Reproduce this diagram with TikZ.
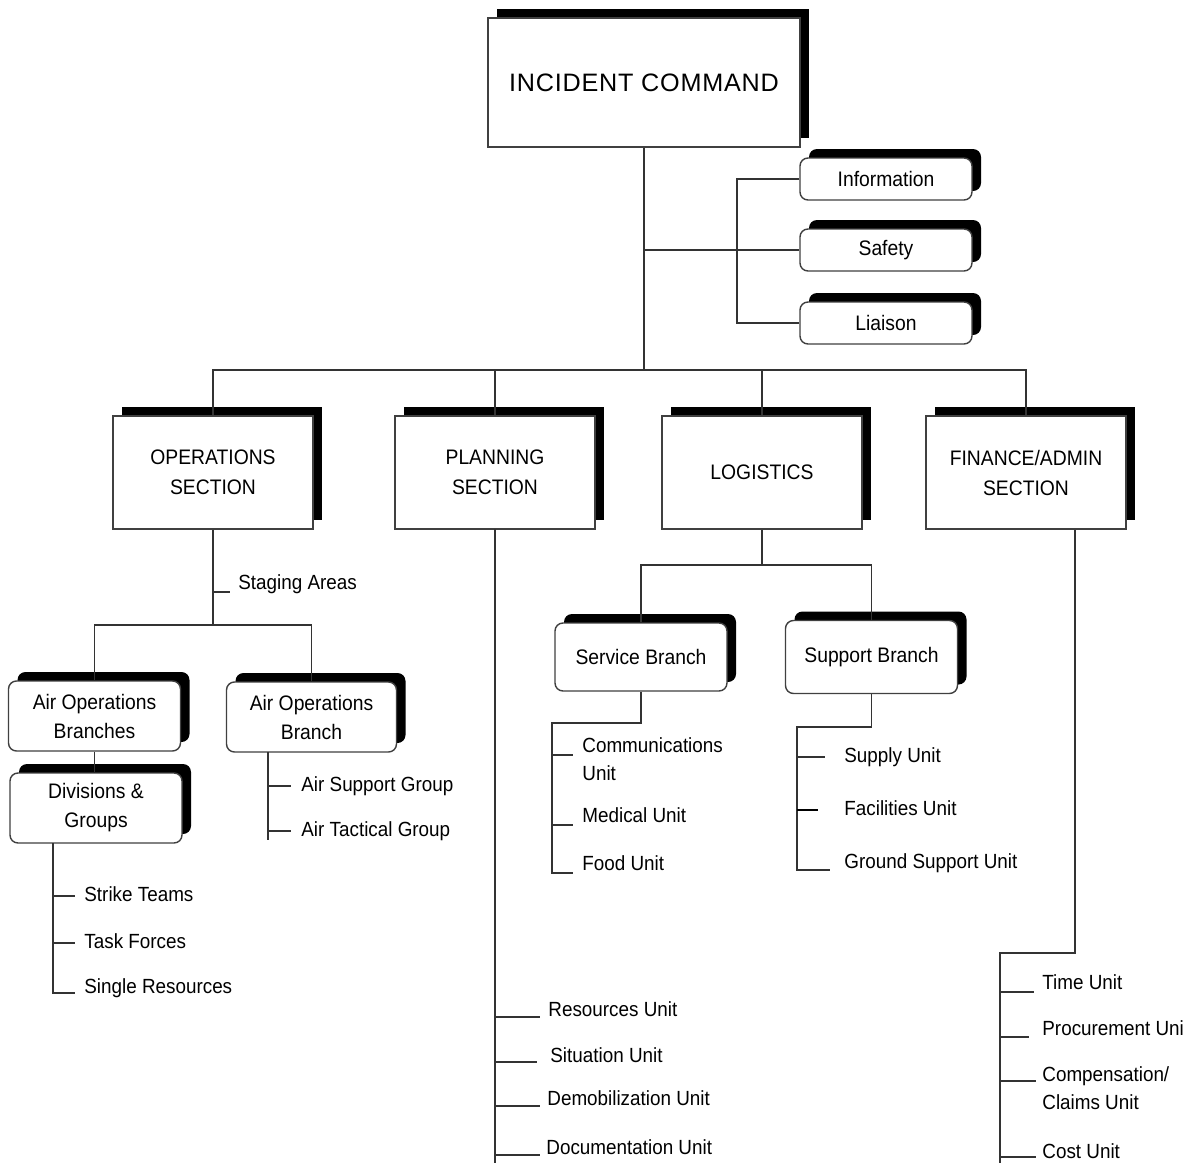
\documentclass[tikz,border=0pt]{standalone}
\usepackage{fontspec}
\setmainfont{Liberation Sans}[FakeStretch=0.92]
\newfontfamily\cmdfont{Liberation Sans}[LetterSpace=3]
\usetikzlibrary{shadows}

\tikzset{
  sect/.style={draw=black!75, fill=white, line width=0.7pt, align=center,
    minimum width=100pt, minimum height=56.5pt, inner sep=0pt,
    font=\fontsize{10.5}{15}\selectfont,
    drop shadow={shadow xshift=4.5pt, shadow yshift=4.5pt, fill=black, opacity=1}},
  unit/.style={sect, rounded corners=4pt, minimum width=86pt, minimum height=35pt,
    font=\fontsize{10.5}{14.5}\selectfont},
  staff/.style={unit, minimum height=21pt},
  lbl/.style={anchor=west, inner sep=0pt, text height=7.5pt, text depth=2pt,
    font=\fontsize{10.25}{14}\selectfont},
  lbltwo/.style={anchor=west, inner sep=0pt, align=left,
    font=\fontsize{10.25}{14}\selectfont},
  conn/.style={draw=black!80, line width=0.6pt}
}

\begin{document}
\begin{tikzpicture}[x=0.5pt,y=-0.5pt]
\useasboundingbox (0,0) rectangle (1196,1163);

\node[sect, minimum width=156pt, minimum height=64.5pt,
  font=\cmdfont\fontsize{12.6}{15}\selectfont] (ic) at (644,82.5) {INCIDENT COMMAND};

\node[staff] (info) at (886,179) {Information};
\node[staff] (safe) at (886,250) {Safety};
\node[staff] (liai) at (886,323) {Liaison};

\node[sect] (ops) at (213,472.5) {OPERATIONS\\SECTION};
\node[sect] (plan) at (495,472.5) {PLANNING\\SECTION};
\node[sect] (logi) at (762,472.5) {LOGISTICS};
\node[sect] (fin) at (1026,472.5) {FINANCE/ADMIN\\SECTION};

\node[unit] (aobs) at (94.5,716) {Air Operations\\Branches};
\node[unit] (dg) at (96,808) {Divisions \&\\Groups};
\node[unit, minimum width=85pt] (aob) at (311.5,717) {Air Operations\\Branch};

\node[unit, minimum height=34pt] (svc) at (641,657) {Service Branch};
\node[unit, minimum height=36.5pt] (sup) at (871.5,657) {Support Branch};

% command staff and sections
\coordinate (stf) at (737,250);
\coordinate (busl) at (213,370);
\draw[conn] (ic.south) -- (ic.south |- busl);
\draw[conn] (ic.south |- stf) -- (safe.west);
\draw[conn] (info.west) -| (stf) |- (liai.west);
\draw[conn] (ops.north) -- (busl) -- (fin.north |- busl) -- (fin.north);
\draw[conn] (plan.north) -- (plan.north |- busl);
\draw[conn] (logi.north) -- (logi.north |- busl);

% operations
\coordinate (opsj) at (213,625);
\node[lbl] (stag) at (238,584) {Staging Areas};
\draw[conn] (ops.south) -- (opsj);
\draw[conn] (ops.south |- stag.west) ++(0,8) -- ++(17,0);
\draw[conn] (aobs.north) |- (opsj) -| (aob.north);
\draw[conn] (aobs.south) -- (aobs.south |- dg.north);

\coordinate (dgv) at (53,843);
\node[lbl] (st) at (84,896) {Strike Teams};
\node[lbl] (tf) at (84,943) {Task Forces};
\node[lbl] (sr) at (84,988) {Single Resources};
\draw[conn] (dgv) -- ++(0,150) -- ++(22,0);
\draw[conn] (dgv |- st.west) -- ++(22,0);
\draw[conn] (dgv |- tf.west) -- ++(22,0);

\coordinate (aobv) at (268,752);
\node[lbl] (asg) at (301,786) {Air Support Group};
\node[lbl] (atg) at (301,831) {Air Tactical Group};
\draw[conn] (aobv) -- ++(0,88);
\draw[conn] (aobv |- asg.west) -- ++(23,0);
\draw[conn] (aobv |- atg.west) -- ++(23,0);

% planning
\coordinate (planv) at (495,529);
\node[lbl] (ru) at (548,1011) {Resources Unit};
\node[lbl] (su) at (550,1057) {Situation Unit};
\node[lbl] (du) at (547,1100) {Demobilization Unit};
\node[lbl] (docu) at (546,1149) {Documentation Unit};
\draw[conn] (planv) -- ++(0,634);
\draw[conn] (planv |- ru.west) ++(0,6) -- ++(45,0);
\draw[conn] (planv |- su.west) ++(0,5) -- ++(42,0);
\draw[conn] (planv |- du.west) ++(0,6) -- ++(45,0);
\draw[conn] (planv |- docu.west) ++(0,6) -- ++(45,0);

% logistics
\coordinate (logj) at (763,565);
\draw[conn] (logi.south) -- (logi.south |- logj);
\draw[conn] (svc.north) |- (logj) -| (sup.north);

\coordinate (svcv) at (552,723);
\node[lbltwo] (comm) at (582,759) {Communications\\Unit};
\node[lbl] (med) at (582,817) {Medical Unit};
\node[lbl] (food) at (582,865) {Food Unit};
\draw[conn] (svc.south) |- (svcv) -- ++(0,150) -- ++(21,0);
\draw[conn] (svcv |- comm.west) ++(0,-4) -- ++(21,0);
\draw[conn] (svcv |- med.west) ++(0,8) -- ++(21,0);

\coordinate (supv) at (797,727);
\node[lbl] (supu) at (844,757) {Supply Unit};
\node[lbl] (facu) at (844,810) {Facilities Unit};
\node[lbl] (gsu) at (844,863) {Ground Support Unit};
\draw[conn] (sup.south) |- (supv) -- ++(0,143) -- ++(33,0);
\draw[conn] (supv |- supu.west) -- ++(28,0);
\draw[conn, draw=black, line width=1pt] (supv |- facu.west) -- ++(21,0);

% finance
\coordinate (finj) at (1075,953);
\coordinate (finv) at (1000,953);
\node[lbl] (tu) at (1042,984) {Time Unit};
\node[lbl] (pu) at (1042,1030) {Procurement Uni};
\node[lbltwo] (cc) at (1042,1088) {Compensation/\\Claims Unit};
\node[lbl] (cu) at (1042,1153) {Cost Unit};
\draw[conn] (fin.south -| finj) -- (finj) -- (finv) -- ++(0,210);
\draw[conn] (finv |- tu.west) ++(0,8) -- ++(34,0);
\draw[conn] (finv |- pu.west) ++(0,7) -- ++(29,0);
\draw[conn] (finv |- cc.west) ++(0,-7) -- ++(36,0);
\draw[conn] (finv |- cu.west) ++(0,4) -- ++(36,0);
\end{tikzpicture}
\end{document}
